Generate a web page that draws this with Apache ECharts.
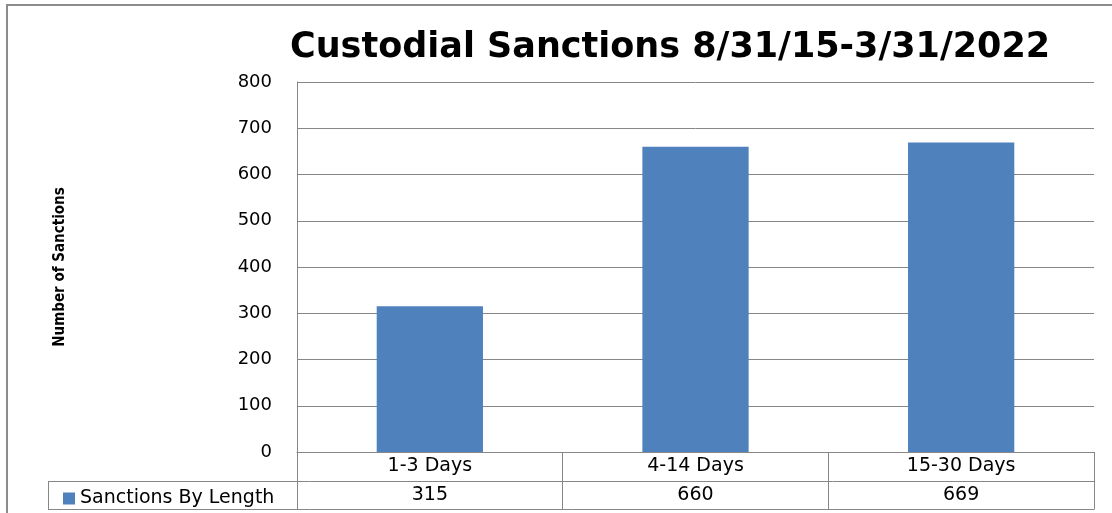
<!DOCTYPE html>
<html>
<head>
<meta charset="utf-8">
<script src="https://cdn.jsdelivr.net/npm/echarts@6/dist/echarts.min.js"></script>
<style>
html,body{margin:0;padding:0;background:#fff;}
#chart{width:1112px;height:513px;}
</style>
</head>
<body>
<div id="chart"></div>
<script>
const chartTitle = 'Custodial Sanctions 8/31/15-3/31/2022';
const yAxisTitle = 'Number of Sanctions';
const seriesName = 'Sanctions By Length';
const categories = ['1-3 Days', '4-14 Days', '15-30 Days'];
const values = [315, 660, 669];
const yMin = 0, yMax = 800, yInterval = 100;

const LINE = '#878787';
const FONT = 'DejaVu Sans';
const G = { left: 297, top: 82, right: 1094, bottom: 452 };
const ROW = 28.5;
const LEGEND_LEFT = 48;

const chart = echarts.init(document.getElementById('chart'));
const r1 = G.bottom + ROW, r2 = G.bottom + 2 * ROW;
chart.setOption({
  animation: false,
  backgroundColor: '#fff',
  title: {
    text: chartTitle,
    left: 285, top: 25,
    textStyle: { fontFamily: FONT, fontSize: 35, fontWeight: 'bold', color: '#000' }
  },
  legend: {
    data: [seriesName],
    left: 58, top: 484,
    icon: 'rect', itemWidth: 12, itemHeight: 12,
    textStyle: { fontFamily: FONT, fontSize: 19, color: '#000' }
  },
  grid: { left: G.left, top: G.top, right: 1112 - G.right, bottom: 513 - G.bottom, containLabel: false },
  xAxis: {
    type: 'category',
    data: categories,
    axisLine: { show: true, lineStyle: { color: LINE, width: 1 } },
    axisTick: { show: true, length: 2 * ROW, lineStyle: { color: LINE, width: 1 } },
    axisLabel: {
      margin: 0,
      formatter: (v, i) => '{c|' + v + '}\n{v|' + values[i] + '}',
      rich: {
        c: { fontFamily: FONT, fontSize: 19, color: '#000', lineHeight: ROW, height: ROW },
        v: { fontFamily: FONT, fontSize: 19, color: '#000', lineHeight: ROW, height: ROW }
      }
    }
  },
  yAxis: {
    type: 'value', min: yMin, max: yMax, interval: yInterval,
    name: yAxisTitle, nameLocation: 'middle', nameGap: 229,
    nameTextStyle: { fontFamily: 'DejaVu Sans Condensed', fontSize: 15, fontWeight: 'bold', color: '#000' },
    axisLine: { show: true, lineStyle: { color: LINE, width: 1 } },
    axisTick: { show: false },
    axisLabel: { margin: 25, fontFamily: FONT, fontSize: 18, color: '#000' },
    splitLine: { show: true, lineStyle: { color: LINE, width: 1 } }
  },
  series: [{
    name: seriesName, type: 'bar', data: values, barWidth: '40%',
    itemStyle: { color: '#4F81BD' }
  }],
  graphic: [
    { type: 'rect', shape: { x: 7, y: 5, width: 1200, height: 600 }, style: { fill: 'none', stroke: '#8c8c8c', lineWidth: 2 }, silent: true },
    { type: 'line', shape: { x1: LEGEND_LEFT, y1: Math.round(r1) + 0.5, x2: G.right, y2: Math.round(r1) + 0.5 }, style: { stroke: LINE, lineWidth: 1 } },
    { type: 'line', shape: { x1: LEGEND_LEFT, y1: Math.round(r2) + 0.5, x2: G.right + 0.5, y2: Math.round(r2) + 0.5 }, style: { stroke: LINE, lineWidth: 1 } },
    { type: 'line', shape: { x1: LEGEND_LEFT + 0.5, y1: Math.round(r1), x2: LEGEND_LEFT + 0.5, y2: Math.round(r2) + 1 }, style: { stroke: LINE, lineWidth: 1 } }
  ]
});
</script>
</body>
</html>
